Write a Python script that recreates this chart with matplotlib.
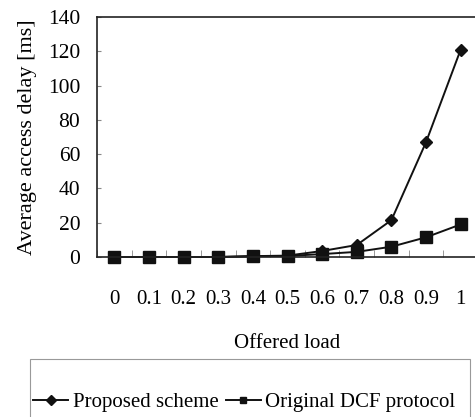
import numpy as np
import matplotlib
matplotlib.use("Agg")
import matplotlib.pyplot as plt
from matplotlib.patches import Rectangle

plt.rcParams['font.family'] = ['Liberation Serif', 'DejaVu Serif']

loads = ['0', '0.1', '0.2', '0.3', '0.4', '0.5', '0.6', '0.7', '0.8', '0.9', '1']
proposed = [0, 0, 0, 0, 0.5, 0.8, 3.5, 7, 21.5, 67, 121]
original_dcf = [0, 0, 0, 0, 0.5, 0.6, 1.7, 3, 6, 11.5, 19]

x = np.arange(len(loads))

fig = plt.figure(figsize=(4.75, 4.17), dpi=100)
ax = fig.add_axes([97 / 475, 1 - 257 / 417, 381 / 475, 240 / 417])

ax.plot(x, proposed, color='#111111', lw=1.4, marker='D', ms=6.5,
        markerfacecolor='#111111', label='Proposed scheme', clip_on=False)
ax.plot(x, original_dcf, color='#111111', lw=1.4, marker='s', ms=8,
        markerfacecolor='#111111', label='Original DCF protocol', clip_on=False)

ax.set_xlim(-0.5, len(loads) - 0.5)
ax.set_ylim(0, 140)
ax.set_yticks(range(0, 141, 20))
ax.tick_params(axis='y', direction='in', length=3, color='#888888',
               labelsize=15.5, pad=12)

ax.set_xticks(x)
ax.set_xticklabels(loads)
ax.set_xticks(np.arange(-0.5, len(loads), 1), minor=True)
ax.tick_params(axis='x', which='major', length=0, labelsize=15, pad=24)
ax.tick_params(axis='x', which='minor', direction='in', length=5, color='#888888')

for side in ['left', 'bottom', 'top']:
    ax.spines[side].set_linewidth(1.2)
    ax.spines[side].set_color('#222222')
ax.spines['right'].set_visible(False)

ax.set_ylabel('Average access delay [ms]', fontsize=16, labelpad=8)
ax.set_xlabel('Offered load', fontsize=15, labelpad=18)

# legend entries without frame, box drawn separately so it runs past the bottom edge
leg = fig.legend(loc='center left', bbox_to_anchor=(33 / 475, 1 - 402 / 417),
                 ncol=2, fontsize=15, frameon=False,
                 handlelength=1.7, handletextpad=0.2, columnspacing=0.35,
                 borderpad=0, borderaxespad=0)
for h in leg.legend_handles:
    h.set_markersize(5)
fig.patches.append(Rectangle((30 / 475, -20 / 417), 440 / 475, (417 + 20 - 359) / 417,
                             transform=fig.transFigure, fill=False,
                             edgecolor='#999999', lw=0.8))

fig.savefig('out.png', dpi=100)
